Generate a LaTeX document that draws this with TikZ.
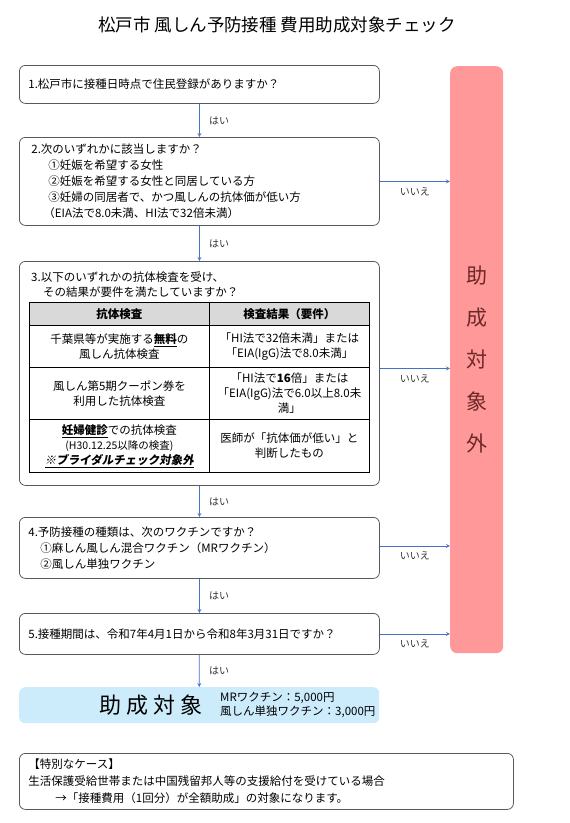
\documentclass[tikz,border=0pt]{standalone}
\usepackage{fontspec}
\setmainfont{Noto Sans CJK JP}
\newfontfamily\slfont[FakeSlant=0.18]{Noto Sans CJK JP}
\usepackage{tikz}
\usetikzlibrary{arrows, positioning}
\definecolor{myblue}{RGB}{68,114,196}
\definecolor{mypink}{RGB}{255,153,153}
\definecolor{mylight}{RGB}{204,236,252}
\definecolor{mygray}{RGB}{217,217,217}
\definecolor{myedge}{RGB}{89,89,89}
\definecolor{myred}{RGB}{110,40,40}

\begin{document}
\begin{tikzpicture}[
    x=1pt, y=-1pt,
    qbox/.style={draw=myedge, rounded corners=6pt, line width=0.8pt, anchor=north west, align=left, text width=342pt, inner xsep=9pt, inner ysep=0pt, font=\fontsize{11.5}{16}\selectfont},
    cell/.style={draw, line width=0.9pt, anchor=north west, align=center, inner sep=0pt, font=\fontsize{11.5}{15}\selectfont},
    arrow/.style={->, >=stealth, myblue, line width=0.8pt},
    yeslbl/.style={right=6pt, font=\fontsize{10}{12}\selectfont, text=black!80},
    nolbl/.style={below=2pt, font=\fontsize{10}{12}\selectfont, text=black!80}
]
\useasboundingbox (0,0) rectangle (570,823);

\node[font=\fontsize{17.5}{20}\selectfont] (title) at (277,25) {松戸市 風しん予防接種 費用助成対象チェック};

% questions
\node[qbox, minimum height=38pt] (q1) at (19,65) {1.松戸市に接種日時点で住民登録がありますか？};
\node[qbox, minimum height=88pt] (q2) at (19,137) {\hspace*{3pt}2.次のいずれかに該当しますか？\\
  \hspace*{20pt}①妊娠を希望する女性\\
  \hspace*{20pt}②妊娠を希望する女性と同居している方\\
  \hspace*{20pt}③妊婦の同居者で、かつ風しんの抗体価が低い方\\
  \hspace*{15pt}（EIA法で8.0未満、HI法で32倍未満）};
\node[qbox, minimum height=224pt] (q3) at (19,261) {};
\node[align=left, anchor=west, inner sep=0pt, font=\fontsize{11.5}{15}\selectfont] (q3t) at (31,284.5) {3.以下のいずれかの抗体検査を受け、\\
  \hspace*{12pt}その結果が要件を満たしていますか？};

% table
\node[cell, fill=mygray, minimum width=180pt, minimum height=23pt] (h1) at (29,302) {\textbf{抗体検査}};
\node[cell, fill=mygray, minimum width=160pt, minimum height=23pt] (h2) at (209,302) {\textbf{検査結果（要件）}};
\node[cell, minimum width=180pt, minimum height=42pt] (a1) at (29,325) {千葉県等が実施する\underline{\textbf{無料}}の\\風しん抗体検査};
\node[cell, minimum width=160pt, minimum height=42pt] (b1) at (209,325) {「HI法で32倍未満」または\\「EIA(IgG)法で8.0未満」};
\node[cell, minimum width=180pt, minimum height=52pt] (a2) at (29,367) {風しん第5期クーポン券を\\利用した抗体検査};
\node[cell, minimum width=160pt, minimum height=52pt] (b2) at (209,367) {「HI法で\textbf{16}倍」または\\「EIA(IgG)法で6.0以上8.0未\\満」};
\node[cell, minimum width=180pt, minimum height=53pt] (a3) at (29,419) {\underline{\textbf{妊婦健診}}での抗体検査\\{\fontsize{10.5}{15}\selectfont(H30.12.25以降の検査)}\\\underline{\slfont\bfseries ※ブライダルチェック対象外}};
\node[cell, minimum width=160pt, minimum height=53pt] (b3) at (209,419) {医師が「抗体価が低い」と\\判断したもの};

\node[qbox, minimum height=61pt] (q4) at (19,517) {4.予防接種の種類は、次のワクチンですか？\\
  \hspace*{12pt}①麻しん風しん混合ワクチン（MRワクチン）\\
  \hspace*{12pt}②風しん単独ワクチン};
\node[qbox, minimum height=41pt] (q5) at (19,613) {5.接種期間は、令和7年4月1日から令和8年3月31日ですか？};

% results
\node[fill=mylight, rounded corners=6pt, anchor=north west, minimum width=360pt, minimum height=36pt] (ok) at (19,687) {};
\node[font=\fontsize{22}{24}\selectfont] (oktxt) at (151,705) {助 成 対 象};
\node[align=left, anchor=west, inner sep=0pt, font=\fontsize{11.5}{14}\selectfont] (price) at (220,705) {MRワクチン：5,000円\\風しん単独ワクチン：3,000円};

\node[fill=mypink, rounded corners=7pt, anchor=north west, minimum width=53pt, minimum height=587pt, align=center, text=myred, font=\fontsize{21}{42}\selectfont] (ng) at (450,66) {助\\成\\対\\象\\外};

\node[qbox, text width=476pt, minimum height=56pt, font=\fontsize{11.5}{17}\selectfont] (sp) at (19,753) {【特別なケース】\\
  生活保護受給世帯または中国残留邦人等の支援給付を受けている場合\\
  \hspace*{27pt}→「接種費用（1回分）が全額助成」の対象になります。};

% connectors
\draw[arrow] (q1) -- node[yeslbl] {はい} (q2);
\draw[arrow] (q2) -- node[yeslbl] {はい} (q3);
\draw[arrow] (q3) -- node[yeslbl] {はい} (q4);
\draw[arrow] (q4) -- node[yeslbl] {はい} (q5);
\draw[arrow] (q5) -- node[yeslbl] {はい} (ok);
\draw[arrow] (q2.east) -- node[nolbl] {いいえ} (q2.east -| ng.west);
\draw[arrow] ([yshift=5pt]q3.east) -- node[nolbl] {いいえ} ([yshift=5pt]q3.east -| ng.west);
\draw[arrow] ([yshift=2pt]q4.east) -- node[nolbl] {いいえ} ([yshift=2pt]q4.east -| ng.west);
\draw[arrow] (q5.east) -- node[nolbl] {いいえ} (q5.east -| ng.west);
\end{tikzpicture}
\end{document}
